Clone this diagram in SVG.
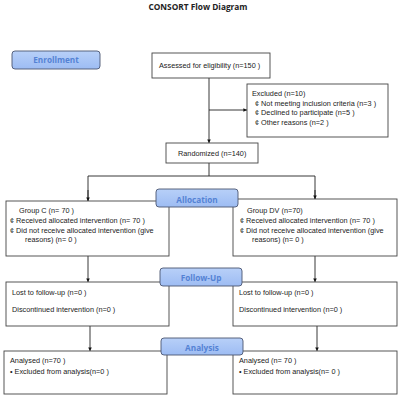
<svg xmlns="http://www.w3.org/2000/svg" width="400" height="400" viewBox="0 0 400 400">
<defs>
<linearGradient id="pg" x1="0" y1="0" x2="0" y2="1">
<stop offset="0" stop-color="#b8d0f8"/>
<stop offset="1" stop-color="#9dbcf3"/>
</linearGradient>
<marker id="ah" viewBox="0 0 6 6" refX="6" refY="3" markerWidth="4" markerHeight="4" orient="auto">
<path d="M0,0 L6,3 L0,6 z" fill="#111"/>
</marker>
</defs>
<style>
.box{fill:#fff;stroke:#444;stroke-width:0.9}
.pill{fill:url(#pg);stroke:#4a5570;stroke-width:0.9}
.pt{font-family:"Open Sans","Liberation Sans",sans-serif;font-weight:bold;font-size:8.2px;fill:#5482d4;text-anchor:middle}
.t{font-family:"Liberation Sans",Arial,sans-serif;font-size:7.3px;fill:#222}
.ln{stroke:#222;stroke-width:0.9;fill:none}
.title{font-family:"Open Sans","Liberation Sans",sans-serif;font-weight:bold;font-size:8.3px;fill:#222;text-anchor:middle}
</style>
<rect width="400" height="400" fill="#fff"/>
<text class="title" x="198" y="10">CONSORT Flow Diagram</text>

<g id="connectors">
<line class="ln" x1="209" y1="78" x2="209" y2="143" marker-end="url(#ah)"/>
<line class="ln" x1="209" y1="110" x2="247" y2="110" marker-end="url(#ah)"/>
<line class="ln" x1="209" y1="163" x2="209" y2="176"/>
<polyline class="ln" points="88,201 88,176 315,176 315,199"/>
<line class="ln" x1="88" y1="190" x2="88" y2="201" marker-end="url(#ah)"/>
<line class="ln" x1="315" y1="190" x2="315" y2="199" marker-end="url(#ah)"/>
<line class="ln" x1="88" y1="256" x2="88" y2="282" marker-end="url(#ah)"/>
<line class="ln" x1="315" y1="256" x2="315" y2="282" marker-end="url(#ah)"/>
<line class="ln" x1="90" y1="326" x2="90" y2="351" marker-end="url(#ah)"/>
<line class="ln" x1="317" y1="326" x2="317" y2="351" marker-end="url(#ah)"/>
</g>

<g id="assessed">
<rect class="box" x="152" y="53" width="118" height="25"/>
<text class="t" x="159" y="68">Assessed for eligibility (n=150 )</text>
</g>

<g id="excluded">
<rect class="box" x="247" y="84" width="141" height="53"/>
<text class="t" x="252" y="96">Excluded  (n=10)</text>
<text class="t" x="255" y="105.5">¢  Not meeting inclusion criteria (n=3 )</text>
<text class="t" x="255" y="115">¢  Declined to participate (n=5 )</text>
<text class="t" x="255" y="124.5">¢  Other reasons (n=2 )</text>
</g>

<g id="randomized">
<rect class="box" x="166" y="143" width="92" height="20"/>
<text class="t" x="178" y="156">Randomized (n=140)</text>
</g>

<g id="groupC">
<rect class="box" x="6" y="201" width="163" height="55"/>
<text class="t" x="19" y="213">Group C (n= 70 )</text>
<text class="t" x="10" y="222.5">¢ Received allocated intervention (n= 70 )</text>
<text class="t" x="10" y="232.5">¢ Did not receive allocated intervention (give</text>
<text class="t" x="25" y="242">reasons) (n= 0 )</text>
</g>

<g id="groupDV">
<rect class="box" x="233" y="199" width="164" height="57"/>
<text class="t" x="247" y="213">Group DV (n=70)</text>
<text class="t" x="240" y="222.5">¢ Received allocated intervention (n= 70 )</text>
<text class="t" x="240" y="232.5">¢ Did not receive allocated intervention (give</text>
<text class="t" x="252" y="242">reasons) (n= 0 )</text>
</g>

<g id="lostC">
<rect class="box" x="6" y="282" width="163" height="44"/>
<text class="t" x="12" y="295">Lost to follow-up (n=0  )</text>
<text class="t" x="12" y="312">Discontinued intervention (n=0  )</text>
</g>

<g id="lostDV">
<rect class="box" x="233" y="282" width="164" height="44"/>
<text class="t" x="239" y="295">Lost to follow-up (n=0  )</text>
<text class="t" x="239" y="312">Discontinued intervention (n=0  )</text>
</g>

<g id="analysedC">
<rect class="box" x="4" y="351" width="163" height="43"/>
<text class="t" x="10" y="363">Analysed  (n=70  )</text>
<text class="t" x="10" y="374">•  Excluded from analysis(n=0  )</text>
</g>

<g id="analysedDV">
<rect class="box" x="233" y="351" width="164" height="43"/>
<text class="t" x="239" y="363">Analysed  (n= 70 )</text>
<text class="t" x="239" y="374">•  Excluded from analysis(n= 0 )</text>
</g>

<g id="enrollment">
<rect class="pill" x="12" y="51" width="88" height="18" rx="3"/>
<text class="pt" x="56" y="63">Enrollment</text>
</g>
<g id="allocation">
<rect class="pill" x="156" y="189" width="82" height="18" rx="3"/>
<text class="pt" x="197" y="203">Allocation</text>
</g>
<g id="followup">
<rect class="pill" x="160" y="268" width="82" height="18" rx="3"/>
<text class="pt" x="201" y="281">Follow-Up</text>
</g>
<g id="analysis">
<rect class="pill" x="161" y="338" width="82" height="17" rx="3"/>
<text class="pt" x="202" y="351">Analysis</text>
</g>
</svg>
